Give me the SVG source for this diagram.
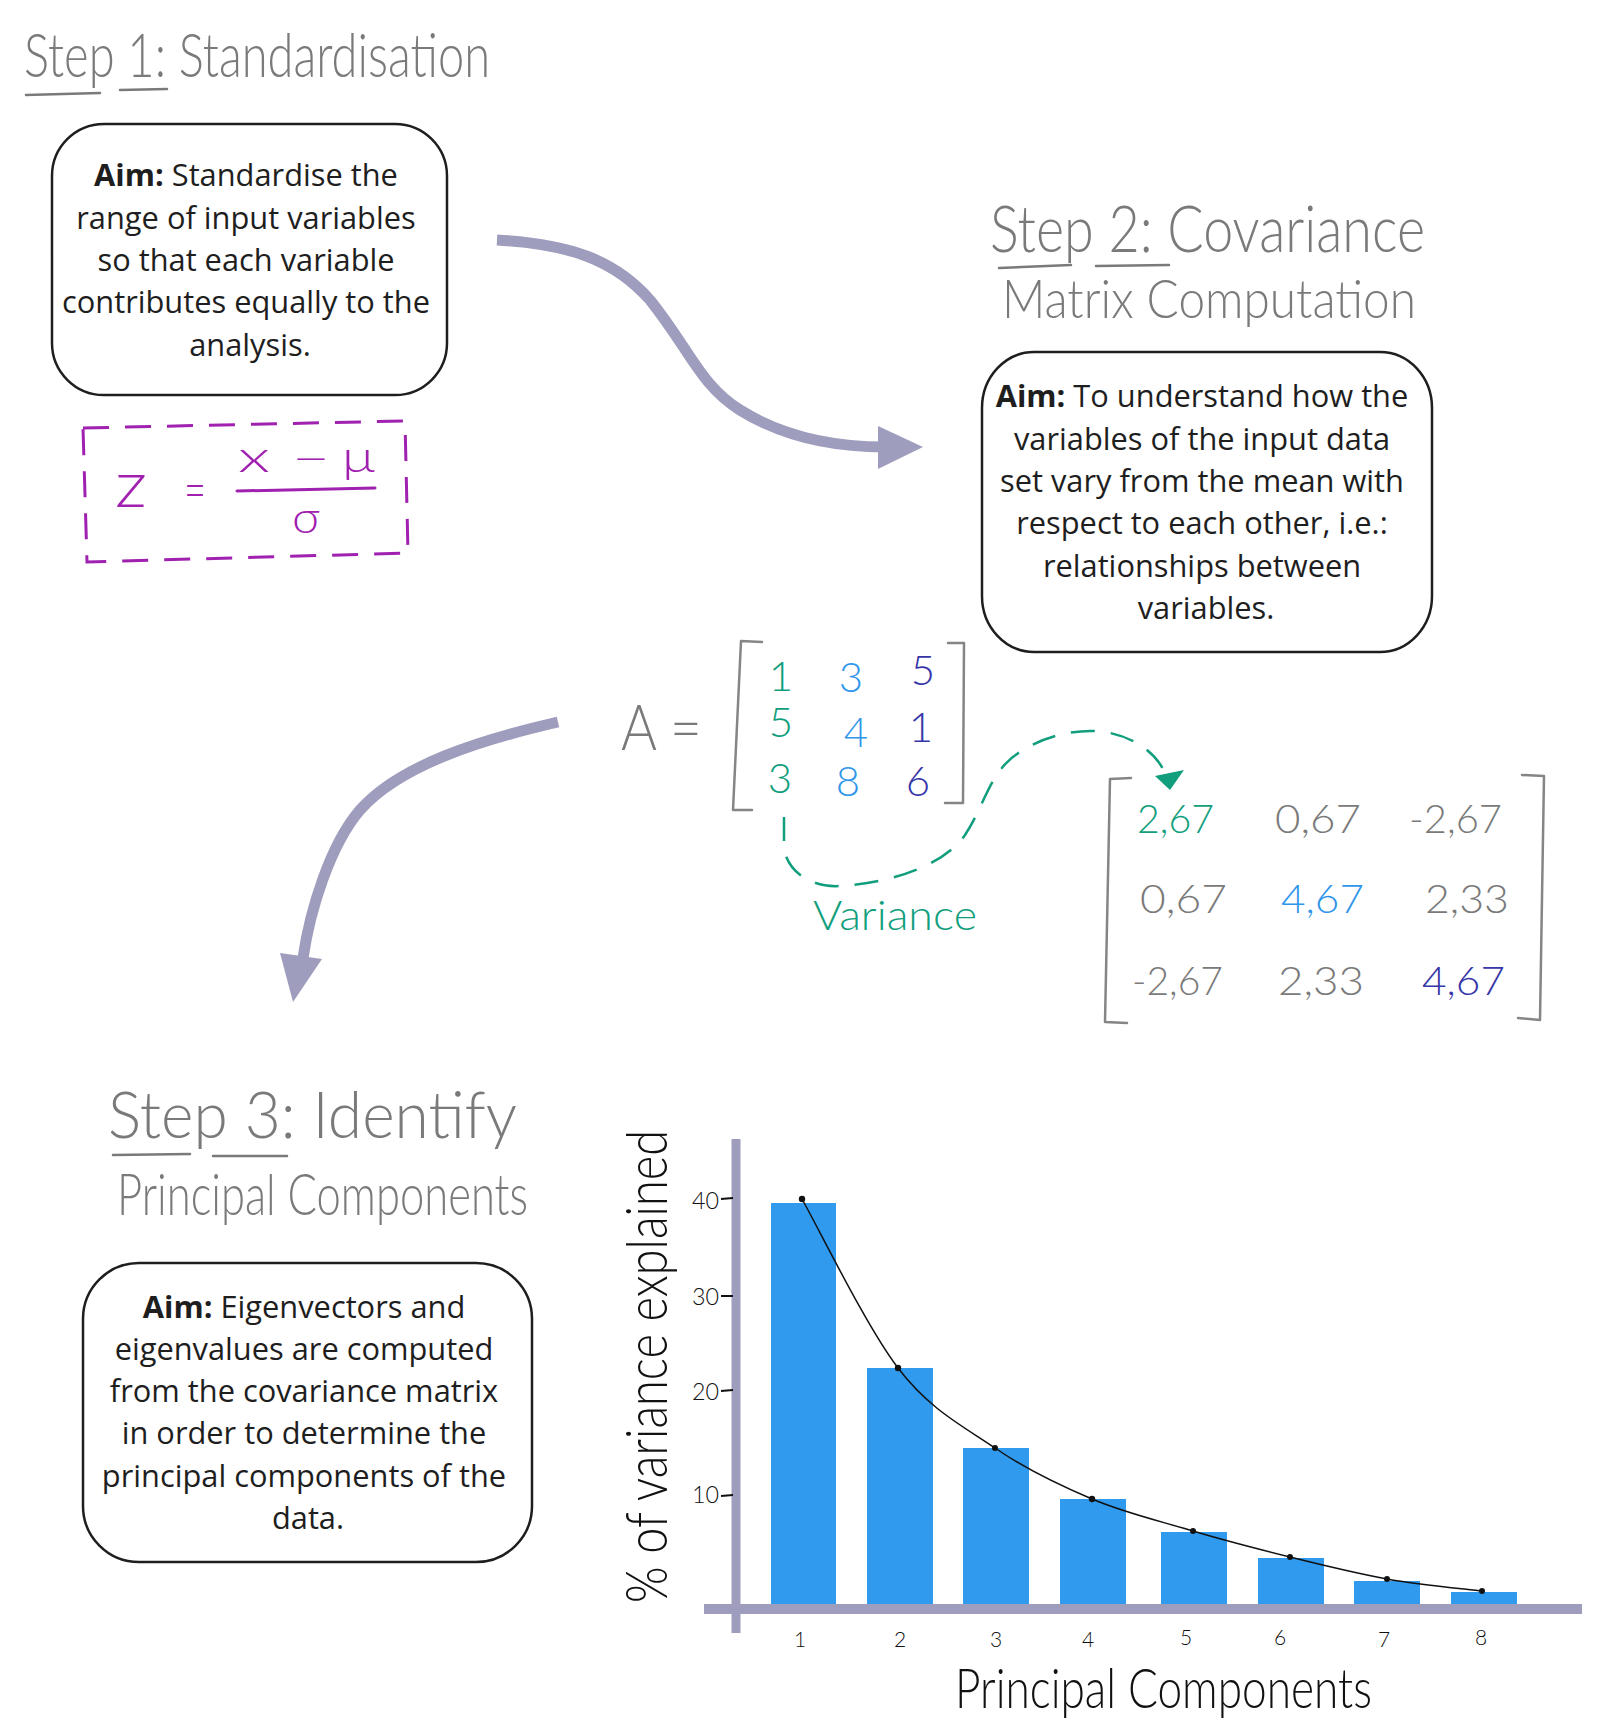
<svg xmlns="http://www.w3.org/2000/svg" width="1598" height="1734" viewBox="0 0 1598 1734">
<defs>
<style>
.hand{font-family:Lato,"Open Sans","Liberation Sans",sans-serif;font-weight:300;}
.title{fill:#7a7a7a;}
.uline{stroke:#7a7a7a;stroke-width:2.5;stroke-linecap:round;fill:none;}
.box{fill:#ffffff;stroke:#1e1e1e;stroke-width:2.5;}
.boxtext{font-family:"Open Sans","Noto Sans","Liberation Sans",sans-serif;font-size:30.8px;fill:#1e1e1e;text-anchor:middle;}
.boxtext .b{font-weight:700;}
.flow{fill:none;stroke:#9f9dbd;stroke-width:11;}
.flowhead{fill:#9f9dbd;}
.bracket{fill:none;stroke:#858585;stroke-width:2.5;stroke-linejoin:round;stroke-linecap:round;}
.teal{fill:#109e7c;}
.blue{fill:#2f96ea;}
.indigo{fill:#3636a8;}
.grey{fill:#7a7a7a;}
.purple{fill:#a020b0;}
.bar{fill:#2f9aee;}
.axis{stroke:#9f9dbd;fill:none;}
.ink{fill:#111111;}
</style>
</defs>

<!-- Step 1 -->
<g id="step1-title">
  <text class="hand title" x="24" y="77" font-size="62" textLength="466" lengthAdjust="spacingAndGlyphs">Step 1: Standardisation</text>
  <path class="uline" d="M26 95 L100 93 M120 90 L167 89"/>
</g>
<g id="step1-box">
  <rect class="box" x="52" y="124" width="395" height="271" rx="52" ry="52"/>
  <text class="boxtext">
    <tspan x="250" y="186"><tspan class="b">Aim:</tspan> Standardise the</tspan>
    <tspan x="250" y="229">range of input variables</tspan>
    <tspan x="250" y="271">so that each variable</tspan>
    <tspan x="250" y="313">contributes equally to the</tspan>
    <tspan x="250" y="356">analysis.</tspan>
  </text>
</g>
<g id="formula">
  <path d="M83 428 L405 421 L408 553 L87 562 Z" fill="none" stroke="#a020b0" stroke-width="3" stroke-dasharray="26 16"/>
  <text class="hand purple" x="115" y="507" font-size="66" textLength="32" lengthAdjust="spacingAndGlyphs">z</text>
  <text class="hand purple" x="184" y="510" font-size="58" textLength="22" lengthAdjust="spacingAndGlyphs">=</text>
  <text class="hand purple" x="238" y="472" font-size="44" textLength="32" lengthAdjust="spacingAndGlyphs">x</text>
  <text class="hand purple" x="292" y="474" font-size="44" textLength="38" lengthAdjust="spacingAndGlyphs">−</text>
  <text class="hand purple" x="342" y="472" font-size="44" textLength="33" lengthAdjust="spacingAndGlyphs">μ</text>
  <line x1="237" y1="491" x2="375" y2="488" stroke="#a020b0" stroke-width="3" stroke-linecap="round"/>
  <text class="hand purple" x="292" y="533" font-size="44" textLength="28" lengthAdjust="spacingAndGlyphs">σ</text>
</g>

<!-- Step 2 -->
<g id="step2-title">
  <text class="hand title" x="990" y="252" font-size="66" textLength="435" lengthAdjust="spacingAndGlyphs">Step 2: Covariance</text>
  <path class="uline" d="M999 268 L1071 265 M1096 266 L1169 265"/>
  <text class="hand title" x="1002" y="318" font-size="54" textLength="414" lengthAdjust="spacingAndGlyphs">Matrix Computation</text>
</g>
<g id="step2-box">
  <rect class="box" x="982" y="352" width="450" height="300" rx="52" ry="56"/>
  <text class="boxtext">
    <tspan x="1206" y="407"><tspan class="b">Aim:</tspan> To understand how the</tspan>
    <tspan x="1206" y="450">variables of the input data</tspan>
    <tspan x="1206" y="492">set vary from the mean with</tspan>
    <tspan x="1206" y="534">respect to each other, i.e.:</tspan>
    <tspan x="1206" y="577">relationships between</tspan>
    <tspan x="1206" y="619">variables.</tspan>
  </text>
</g>

<g id="matrix-a">
  <text class="hand grey" x="621" y="750" font-size="64" textLength="81" lengthAdjust="spacingAndGlyphs">A =</text>
  <polyline class="bracket" points="762,642 741,641 733,810 752,810"/>
  <polyline class="bracket" points="948,643 964,643 963,803 945,803"/>
  <g class="hand" font-size="42" text-anchor="middle">
    <text class="teal" x="781" y="691">1</text>
    <text class="blue" x="851" y="692">3</text>
    <text class="indigo" x="923" y="685">5</text>
    <text class="teal" x="781" y="737">5</text>
    <text class="blue" x="856" y="747">4</text>
    <text class="indigo" x="921" y="742">1</text>
    <text class="teal" x="780" y="793">3</text>
    <text class="blue" x="848" y="796">8</text>
    <text class="indigo" x="918" y="796">6</text>
  </g>
</g>

<g id="covariance-matrix">
  <polyline class="bracket" points="1131,778 1110,779 1105,1022 1127,1023"/>
  <polyline class="bracket" points="1522,775 1544,776 1540,1020 1518,1018"/>
  <g class="hand" font-size="40">
    <text class="teal" x="1137" y="833" textLength="77" lengthAdjust="spacingAndGlyphs">2,67</text>
    <text class="grey" x="1275" y="833" textLength="86" lengthAdjust="spacingAndGlyphs">0,67</text>
    <text class="grey" x="1409" y="833" textLength="93" lengthAdjust="spacingAndGlyphs">-2,67</text>
    <text class="grey" x="1140" y="913" textLength="87" lengthAdjust="spacingAndGlyphs">0,67</text>
    <text class="blue" x="1281" y="913" textLength="83" lengthAdjust="spacingAndGlyphs">4,67</text>
    <text class="grey" x="1425" y="913" textLength="84" lengthAdjust="spacingAndGlyphs">2,33</text>
    <text class="grey" x="1132" y="995" textLength="91" lengthAdjust="spacingAndGlyphs">-2,67</text>
    <text class="grey" x="1278" y="995" textLength="86" lengthAdjust="spacingAndGlyphs">2,33</text>
    <text class="indigo" x="1422" y="995" textLength="83" lengthAdjust="spacingAndGlyphs">4,67</text>
  </g>
</g>

<g id="variance-label">
  <text class="hand teal" x="813" y="930" font-size="42" textLength="164" lengthAdjust="spacingAndGlyphs">Variance</text>
</g>

<!-- Step 3 -->
<g id="step3-title">
  <text class="hand title" x="108" y="1138" font-size="66" textLength="409" lengthAdjust="spacingAndGlyphs">Step 3: Identify</text>
  <path class="uline" d="M113 1155 L190 1154 M213 1156 L287 1156"/>
  <text class="hand title" x="117" y="1215" font-size="58" textLength="411" lengthAdjust="spacingAndGlyphs">Principal Components</text>
</g>
<g id="step3-box">
  <rect class="box" x="83" y="1263" width="449" height="299" rx="56" ry="56"/>
  <text class="boxtext">
    <tspan x="308" y="1318"><tspan class="b">Aim:</tspan> Eigenvectors and</tspan>
    <tspan x="308" y="1360">eigenvalues are computed</tspan>
    <tspan x="308" y="1402">from the covariance matrix</tspan>
    <tspan x="308" y="1444">in order to determine the</tspan>
    <tspan x="308" y="1487">principal components of the</tspan>
    <tspan x="308" y="1529">data.</tspan>
  </text>
</g>

<!-- Chart -->
<g id="chart">
  <rect class="bar" x="771" y="1203" width="65" height="401"/>
  <rect class="bar" x="867" y="1368" width="66" height="236"/>
  <rect class="bar" x="963" y="1448" width="66" height="156"/>
  <rect class="bar" x="1060" y="1499" width="66" height="105"/>
  <rect class="bar" x="1161" y="1532" width="66" height="72"/>
  <rect class="bar" x="1258" y="1558" width="66" height="46"/>
  <rect class="bar" x="1354" y="1581" width="66" height="23"/>
  <rect class="bar" x="1451" y="1592" width="66" height="12"/>
  <line class="axis" x1="736" y1="1139" x2="736" y2="1633" stroke-width="9"/>
  <line class="axis" x1="704" y1="1609" x2="1582" y2="1609" stroke-width="10"/>
  <path d="M802 1199 C818 1227 866 1326 898 1368 C930 1410 963 1426 995 1448 C1027 1470 1059 1485 1092 1499 C1125 1513 1160 1521 1193 1531 C1226 1541 1258 1549 1290 1557 C1322 1565 1355 1573 1387 1579 C1419 1585 1466 1589 1482 1591" fill="none" stroke="#111" stroke-width="1.5"/>
  <g fill="#111">
    <circle cx="802" cy="1199" r="3.2"/>
    <circle cx="898" cy="1368" r="3.2"/>
    <circle cx="995" cy="1448" r="3"/>
    <circle cx="1092" cy="1499" r="3.2"/>
    <circle cx="1193" cy="1531" r="3"/>
    <circle cx="1290" cy="1557" r="3"/>
    <circle cx="1387" cy="1579" r="3"/>
    <circle cx="1482" cy="1591" r="3"/>
  </g>
  <g class="hand ink" font-size="24">
    <text x="692" y="1209" textLength="27" lengthAdjust="spacingAndGlyphs">40</text>
    <text x="692" y="1305" textLength="27" lengthAdjust="spacingAndGlyphs">30</text>
    <text x="692" y="1400" textLength="27" lengthAdjust="spacingAndGlyphs">20</text>
    <text x="692" y="1503" textLength="27" lengthAdjust="spacingAndGlyphs">10</text>
  </g>
  <path d="M721 1199 L733 1198 M721 1296 L733 1296 M721 1391 L733 1390 M721 1496 L733 1495" stroke="#111" stroke-width="1.8"/>
  <g class="hand ink" font-size="21" text-anchor="middle">
    <text x="800" y="1647">1</text>
    <text x="900" y="1647">2</text>
    <text x="996" y="1647">3</text>
    <text x="1088" y="1647">4</text>
    <text x="1186" y="1645">5</text>
    <text x="1280" y="1645">6</text>
    <text x="1384" y="1647">7</text>
    <text x="1481" y="1645">8</text>
  </g>
  <text class="hand ink" x="955" y="1708" font-size="56" textLength="417" lengthAdjust="spacingAndGlyphs">Principal Components</text>
  <text class="hand ink" transform="translate(667,1603) rotate(-90)" x="0" y="0" font-size="57" textLength="473" lengthAdjust="spacingAndGlyphs">% of variance explained</text>
</g>

<!-- Connectors -->
<g id="connectors">
  <path class="flow" d="M497 240 C570 244 615 260 650 300 C690 350 700 385 740 410 C780 435 830 447 885 447"/>
  <polygon class="flowhead" points="923,447 878,426 878,469"/>
  <path class="flow" d="M558 722 C480 740 400 765 360 810 C330 845 310 910 303 958"/>
  <polygon class="flowhead" points="293,1002 280,953 322,959"/>
  <path d="M784 817 L784 847 C786 870 810 888 840 886 C880 884 940 870 965 835 C985 805 990 770 1020 752 C1045 735 1080 728 1105 732 C1140 738 1160 758 1166 776" fill="none" stroke="#109e7c" stroke-width="2.5" stroke-dasharray="24 16"/>
  <polygon class="teal" points="1155,776 1184,770 1170,790"/>
</g>
</svg>
